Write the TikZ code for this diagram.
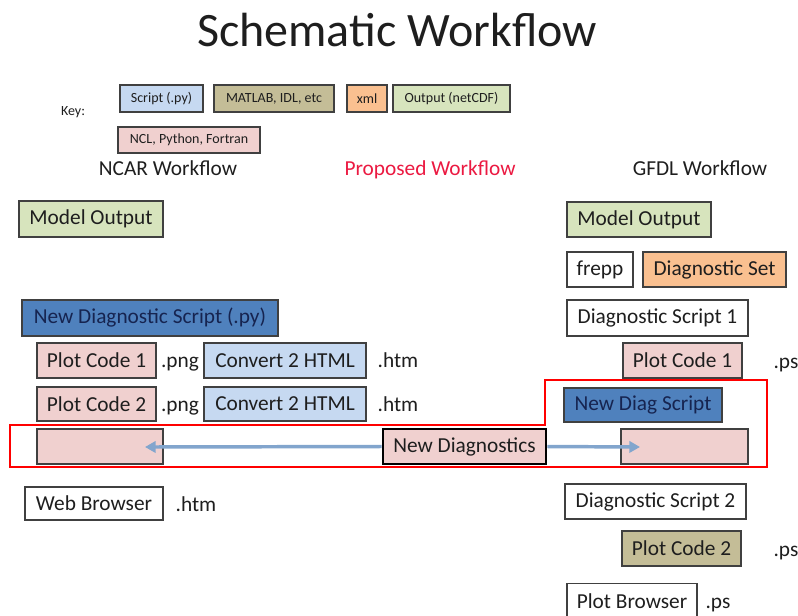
\documentclass[tikz,border=0pt]{standalone}
\usepackage{fontspec}
\setmainfont{Carlito}
\usetikzlibrary{arrows.meta}
\definecolor{cscript}{RGB}{198,217,241}
\definecolor{ckhaki}{RGB}{196,189,151}
\definecolor{cxml}{RGB}{250,192,144}
\definecolor{cout}{RGB}{215,228,189}
\definecolor{cpink}{RGB}{240,208,207}
\definecolor{cblue}{RGB}{79,129,189}
\definecolor{cbord}{RGB}{64,64,64}
\definecolor{ctxt}{RGB}{30,30,30}
\definecolor{cnavy}{RGB}{22,36,80}
\definecolor{cprop}{RGB}{235,25,65}
\definecolor{carrow}{RGB}{130,165,205}
\newcommand\bx[7]{\node[#2, minimum width={(#5-#3)*0.75pt}, minimum height={(#6-#4)*0.75pt}] (#1) at ({(#3+#5)/2},{(#4+#6)/2}) {#7};}
\begin{document}
\begin{tikzpicture}[x=0.75pt,y=-0.75pt,
  box/.style={draw=cbord, line width=0.8pt, inner sep=0pt, text=ctxt, font=\fontsize{16}{19}\selectfont},
  keybox/.style={draw=cbord, line width=0.8pt, inner sep=0pt, text=ctxt, font=\fontsize{10.5}{12}\selectfont},
  lbl/.style={text=ctxt, inner sep=0pt, anchor=base, font=\fontsize{16}{19}\selectfont},
  arr/.style={draw=carrow, line width=2.6pt, -{Triangle[length=8pt,width=8.5pt]}}]
\clip (0,0) rectangle (798,615);
\useasboundingbox (0,0) rectangle (798,615);
% title
\node[text=ctxt, font=\fontsize{36}{40}\selectfont] (title) at (397,30) {Schematic Workflow};
% key
\node[lbl, font=\fontsize{10.5}{12}\selectfont] (key) at (73,115) {Key:};
\bx{k1}{keybox, fill=cscript}{120}{85}{203}{112}{Script (.py)}
\bx{k2}{keybox, fill=ckhaki}{214}{85}{334}{112}{MATLAB, IDL, etc}
\bx{k3}{keybox, fill=cxml}{347}{85}{387}{112}{xml}
\bx{k4}{keybox, fill=cout}{393}{85}{510}{112}{Output (netCDF)}
\bx{k5}{keybox, fill=cpink}{118}{127}{260}{153}{NCL, Python, Fortran}
% headings
\node[lbl] (ncar) at (168,175) {NCAR Workflow};
\node[lbl, text=cprop] (prop) at (430,175) {Proposed Workflow};
\node[lbl] (gfdl) at (700,175) {GFDL Workflow};
% red outline
\draw[red, line width=1.3pt] (10,425) -- (545,425) -- (545,380) -- (767,380) -- (767,467) -- (10,467) -- cycle;
% left column
\bx{lmo}{box, fill=cout}{19}{201}{163}{237}{Model Output}
\bx{lnds}{box, fill=cblue, text=cnavy}{22}{300}{278}{336}{New Diagnostic Script (.py)}
\bx{lpc1}{box, fill=cpink}{37}{343}{156}{378}{Plot Code 1}
\node[lbl] (png1) at (180,367) {.png};
\bx{lch1}{box, fill=cscript}{204}{343}{366}{378}{Convert 2 HTML}
\node[lbl] (htm1) at (398,367) {.htm};
\bx{lpc2}{box, fill=cpink}{37}{387}{156}{421}{Plot Code 2}
\node[lbl] (png2) at (180,411) {.png};
\bx{lch2}{box, fill=cscript}{204}{387}{366}{421}{Convert 2 HTML}
\node[lbl] (htm2) at (398,411) {.htm};
\bx{lnew}{box, fill=cpink}{37}{429}{163}{464}{}
\bx{lwb}{box, fill=white}{25}{487}{163}{520}{Web Browser}
\node[lbl] (htm3) at (196,511) {.htm};
% middle
\bx{nd}{box, fill=cpink, draw=black, line width=2.2pt}{383}{429}{546}{464}{New Diagnostics}
% right column
\bx{rmo}{box, fill=cout}{567}{202}{711}{237}{Model Output}
\bx{frepp}{box, fill=white}{567}{252}{633}{287}{frepp}
\bx{dset}{box, fill=cxml}{643}{252}{786}{287}{Diagnostic Set}
\bx{ds1}{box, fill=white}{567}{300}{748}{336}{Diagnostic Script 1}
\bx{rpc1}{box, fill=cpink}{623}{343}{742}{378}{Plot Code 1}
\node[lbl] (ps1) at (786,368) {.ps};
\bx{nds}{box, fill=cblue, text=cnavy}{564}{388}{722}{422}{New Diag Script}
\bx{rnew}{box, fill=cpink}{621}{429}{748}{464}{}
\bx{ds2}{box, fill=white}{565}{484}{746}{519}{Diagnostic Script 2}
\bx{rpc2}{box, fill=ckhaki}{622}{531}{741}{566}{Plot Code 2}
\node[lbl] (ps2) at (786,556) {.ps};
\node[box, fill=white, minimum width={130*0.75pt}, minimum height={35*0.75pt}, anchor=north] (pb) at (632,583) {Plot Browser};
\node[lbl] (ps3) at (718,608) {.ps};
% arrows
\coordinate (la) at (145,447);
\coordinate (ra) at (640,447);
\draw[arr] (nd.west) -- (la);
\draw[arr] (nd.east) -- (ra);
\end{tikzpicture}
\end{document}
